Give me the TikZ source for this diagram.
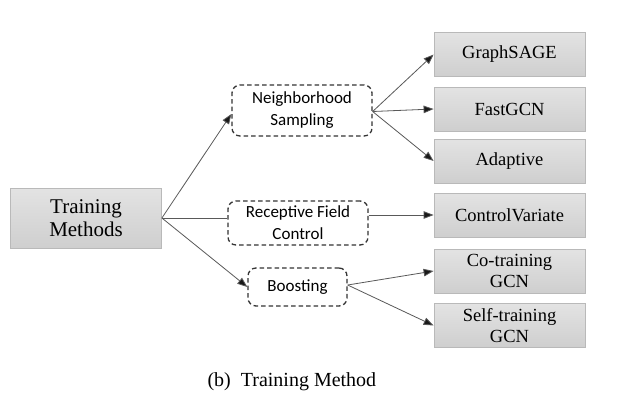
\documentclass[tikz,border=0pt]{standalone}
\usepackage{fontspec}
\setmainfont{Liberation Serif}
\newfontfamily\calib{Carlito}
\usetikzlibrary{arrows.meta,shapes.geometric}
\tikzset{
  graybox/.style={draw=gray!55, line width=0.8pt, top color=gray!22, bottom color=gray!38,
    minimum width=151pt, minimum height=44pt, inner sep=0pt, align=center,
    font=\fontsize{18.5}{21}\selectfont},
  rootbox/.style={graybox, minimum width=151pt, minimum height=60pt, font=\fontsize{21}{23.5}\selectfont},
  dashbox/.style={draw=black!80, dash pattern=on 4.5pt off 3pt, line width=1.3pt, rounded corners=8pt,
    fill=white, inner sep=0pt, align=center, font=\calib\fontsize{17}{22}\selectfont},
  conn/.style={draw=black!65, line width=0.8pt},
  arr/.style={conn, -{Triangle[length=10pt,width=7.5pt,fill=black!90]}},
}
\begin{document}
\begin{tikzpicture}[x=1pt,y=-1pt]
\useasboundingbox (0,0) rectangle (624,408);
\fill[white] (0,0) rectangle (624,408);
\node[rootbox] (tm) at (86,218) {Training\\Methods};
\node[dashbox, minimum width=140pt, minimum height=51pt] (ns) at (302,110.5) {Neighborhood\\Sampling};
\node[dashbox, minimum width=140pt, minimum height=44pt] (rf) at (298,223) {Receptive Field\\Control};
\node[dashbox, minimum width=99pt, minimum height=38pt] (bo) at (297.5,287) {Boosting};
\node[graybox] (gs) at (509.5,54.5) {GraphSAGE};
\node[graybox] (fg) at (509.5,109) {FastGCN};
\node[graybox] (ad) at (509.5,161) {Adaptive};
\node[graybox] (cv) at (509.5,215) {ControlVariate};
\node[graybox] (ct) at (509.5,271) {Co-training\\GCN};
\node[graybox] (st) at (509.5,325.5) {Self-training\\GCN};
\coordinate (tmo) at (tm.east);
\draw[arr] (tmo) -- (ns.west |- 0,114);
\draw[conn] (tmo) -- (rf.west |- tmo);
\draw[arr] (tmo) -- (bo.west);
\coordinate (nso) at ([yshift=-1pt]ns.east);
\draw[arr] (nso) -- (gs.west);
\draw[arr] (nso) -- (fg.west);
\draw[arr] (nso) -- (ad.west);
\draw[arr] (rf.east |- cv.west) -- (cv.west);
\coordinate (boo) at ([yshift=2pt]bo.east);
\draw[arr] (boo) -- (ct.west);
\draw[arr] (boo) -- (st.west);
\node[font=\fontsize{20}{23}\selectfont, anchor=west] (cap) at (204,382) {(b)\ \ Training Method};
\end{tikzpicture}
\end{document}
